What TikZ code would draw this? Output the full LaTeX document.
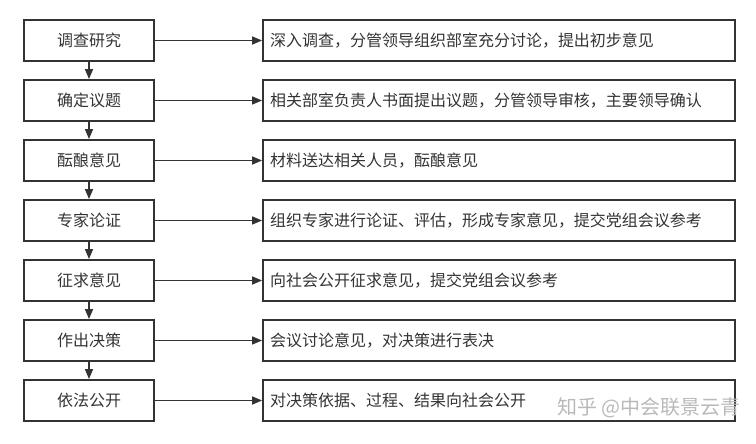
\documentclass[tikz,border=0pt]{standalone}
\usepackage{fontspec}
\setmainfont{Noto Sans CJK SC}
\usetikzlibrary{arrows.meta}
\definecolor{ink}{HTML}{333333}
\tikzset{
  stage/.style={draw=ink, line width=1.9pt, minimum width=130pt, minimum height=41pt, inner sep=0pt, text=ink, font=\fontsize{16}{18}\selectfont},
  note/.style={draw=ink, line width=1.9pt, minimum width=472pt, minimum height=41pt, inner sep=0pt, text=ink, font=\fontsize{16}{18}\selectfont},
  flow/.style={draw=ink, line width=1.6pt, -{Triangle[length=10pt,width=8pt]}}
}
\begin{document}
\begin{tikzpicture}[x=1pt,y=-1pt]
\useasboundingbox (0,0) rectangle (756,444);
% stages and their notes
\foreach \i/\s/\t in {1/调查研究/深入调查，分管领导组织部室充分讨论，提出初步意见,
  2/确定议题/相关部室负责人书面提出议题，分管领导审核，主要领导确认,
  3/酝酿意见/材料送达相关人员，酝酿意见,
  4/专家论证/组织专家进行论证、评估，形成专家意见，提交党组会议参考,
  5/征求意见/向社会公开征求意见，提交党组会议参考,
  6/作出决策/会议讨论意见，对决策进行表决,
  7/依法公开/对决策依据、过程、结果向社会公开}{
  \node[stage] (s\i) at (89,{40.5+60*(\i-1)}) {\s};
  \node[note, text width=458pt, align=left] (n\i) at (499,{40.5+60*(\i-1)}) {\t};
  \draw[flow] (s\i) -- (n\i);
}
\foreach \i [evaluate=\i as \j using int(\i+1)] in {1,...,6}
  \draw[flow] (s\i) -- (s\j);
\node[text=gray!55, font=\fontsize{20}{22}\selectfont, anchor=east] (mark) at (744,408) {知乎 @中会联景云青};
\end{tikzpicture}
\end{document}
